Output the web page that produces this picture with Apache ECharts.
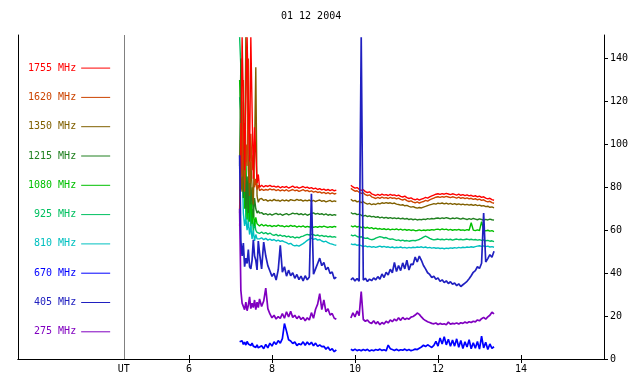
<!DOCTYPE html>
<html><head><meta charset="utf-8">
<script src="https://cdn.jsdelivr.net/npm/echarts@6/dist/echarts.min.js"></script>
<style>html,body{margin:0;padding:0;background:#fff}#c{width:640px;height:384px}</style>
</head><body><div id="c"></div>
<script>
// ---- time axis (UT hours) ----
const times = [
  7.22, 7.25, 7.28, 7.31, 7.34, 7.37, 7.40, 7.43, 7.46, 7.49, 7.52, 7.55, 7.58, 7.61, 7.64, 7.67, 7.70,
  7.75, 7.80, 7.85, 7.90, 7.95, 8.00, 8.05, 8.10, 8.15, 8.20,
  8.25, 8.30, 8.35, 8.40, 8.45, 8.50, 8.55, 8.60, 8.65, 8.70,
  8.75, 8.80, 8.85, 8.90, 8.95, 9.00, 9.05, 9.10, 9.15, 9.20,
  9.25, 9.30, 9.35, 9.40, 9.45, 9.50, 9.55,
  9.72,
  9.90, 9.95, 10.00, 10.05, 10.10, 10.15, 10.20, 10.25, 10.30, 10.35,
  10.40, 10.45, 10.50, 10.55, 10.60, 10.65, 10.70, 10.75, 10.80, 10.85,
  10.90, 10.95, 11.00, 11.05, 11.10, 11.15, 11.20, 11.25, 11.30, 11.35,
  11.40, 11.45, 11.50, 11.55, 11.60, 11.65, 11.70, 11.75, 11.80, 11.85,
  11.90, 11.95, 12.00, 12.05, 12.10, 12.15, 12.20, 12.25, 12.30, 12.35,
  12.40, 12.45, 12.50, 12.55, 12.60, 12.65, 12.70, 12.75, 12.80, 12.85,
  12.90, 12.95, 13.00, 13.05, 13.10, 13.15, 13.20, 13.25, 13.30, 13.35
];

const f1755 = [
  62, 95, 150, 150, 88, 120, 150, 150, 92, 150, 150, 84, 108, 96, 82, 86, 80,
  81.0, 80.2, 80.8, 80.4, 80.9, 80.3, 80.6, 80.1, 80.5, 79.8,
  80.3, 80.0, 80.4, 79.7, 80.1, 80.6, 79.9, 80.2, 79.6, 80.0,
  80.4, 79.8, 80.1, 79.5, 79.9, 79.3, 79.6, 79.0, 79.4, 78.8,
  79.2, 78.6, 79.0, 78.5, 78.9, 78.4, 78.7,
  null,
  81.0, 80.2, 79.6, 79.9, 79.1, 78.6, 78.9, 78.0, 77.6, 77.9,
  77.0, 76.6, 76.2, 76.7, 76.3, 76.8, 76.4, 76.6, 76.2, 76.7,
  76.3, 76.5, 76.0, 76.4, 75.8, 75.5, 75.9, 75.2, 74.8, 75.1,
  74.5, 74.2, 74.6, 74.1, 74.5, 74.8, 75.3, 75.0, 75.6, 76.0,
  76.4, 76.8, 77.0, 76.7, 77.1, 76.8, 77.2, 76.9, 76.6, 77.0,
  76.7, 76.4, 76.8, 76.3, 76.6, 76.1, 76.5, 76.0, 76.3, 75.8,
  76.1, 75.6, 75.9, 75.3, 75.6, 75.0, 74.6, 74.9, 74.3, 74.0
];
const f1620 = [
  70, 110, 85, 130, 78, 100, 90, 140, 82, 105, 88, 95, 80, 84, 79, 81, 78.5,
  79.2, 78.6, 79.0, 78.7, 79.3, 78.8, 79.1, 78.5, 78.9, 78.3,
  78.8, 78.4, 78.9, 78.2, 78.6, 79.0, 78.4, 78.7, 78.1, 78.5,
  78.9, 78.3, 78.6, 78.0, 78.4, 77.8, 78.1, 77.6, 77.9, 77.3,
  77.7, 77.1, 77.5, 77.0, 77.4, 76.9, 77.2,
  null,
  79.5, 78.8, 78.2, 78.4, 77.7, 77.2, 77.5, 76.6, 76.2, 76.5,
  75.6, 75.2, 74.8, 75.3, 74.9, 75.4, 75.0, 75.2, 74.8, 75.3,
  74.9, 75.1, 74.6, 75.0, 74.4, 74.1, 74.5, 73.8, 73.4, 73.7,
  73.1, 72.8, 73.2, 72.7, 73.1, 73.4, 73.9, 73.6, 74.2, 74.6,
  75.0, 75.4, 75.6, 75.3, 75.7, 75.4, 75.8, 75.5, 75.2, 75.6,
  75.3, 75.0, 75.4, 74.9, 75.2, 74.7, 75.1, 74.6, 74.9, 74.4,
  74.7, 74.2, 74.5, 73.9, 74.2, 73.6, 73.2, 73.5, 72.9, 72.6
];
const f1350 = [
  68, 85, 78, 95, 82, 150, 135, 88, 76, 92, 80, 72, 98, 136, 76, 73, 74.5,
  74.8, 73.9, 74.3, 73.6, 74.1, 73.7, 74.4, 73.8, 74.0, 73.5,
  74.2, 73.7, 74.1, 73.6, 74.3, 74.0, 73.8, 74.4, 73.9, 74.2,
  73.6, 74.0, 73.7, 74.1, 73.5, 73.9, 73.4, 73.8, 74.1, 73.5,
  73.8, 73.2, 73.6, 73.9, 73.3, 73.7, 73.4,
  null,
  74.5, 73.6, 73.9, 73.2, 73.5, 72.9, 73.3, 72.6, 72.2, 72.5,
  71.9, 72.3, 72.0, 72.6, 72.3, 72.8, 72.5, 72.9, 72.6, 72.8,
  72.4, 72.7, 72.2, 72.0, 71.7, 71.9, 71.4, 71.6, 71.1, 70.8,
  71.0, 70.6, 70.3, 70.6, 70.4, 70.8, 71.1, 71.5, 71.8, 72.1,
  72.4, 72.2, 72.6, 72.4, 72.7, 72.3, 72.6, 72.2, 72.5, 72.1,
  72.4, 72.0, 72.3, 71.9, 72.2, 71.8, 72.1, 71.7, 72.0, 71.6,
  71.9, 71.5, 71.7, 71.3, 71.5, 71.0, 71.2, 70.7, 70.9, 70.4
];
const f1215 = [
  90, 140, 100, 75, 110, 70, 85, 68, 95, 72, 80, 66, 75, 70, 68, 69, 68,
  68.2, 67.4, 67.8, 67.2, 67.6, 67.1, 67.5, 67.9, 67.3, 67.6,
  67.0, 67.4, 67.8, 67.2, 67.5, 68.0, 67.6, 67.9, 67.3, 67.7,
  67.2, 67.6, 67.0, 67.4, 67.8, 68.1, 67.5, 67.9, 67.4, 67.7,
  67.2, 67.6, 67.0, 67.4, 66.9, 67.3, 67.0,
  null,
  68.3, 67.6, 67.9, 67.3, 67.5, 67.0, 66.6, 66.9, 66.4, 66.7,
  66.2, 66.5, 66.0, 66.3, 65.8, 66.1, 65.7, 66.0, 65.6, 65.9,
  65.5, 65.8, 65.4, 65.7, 65.3, 65.6, 65.2, 65.5, 65.0, 65.3,
  64.9, 65.2, 64.8, 65.1, 64.9, 65.2, 65.0, 65.4, 65.2, 65.5,
  65.3, 65.6, 65.7, 65.4, 65.8, 65.5, 65.9, 65.6, 65.3, 65.7,
  65.4, 65.8, 65.5, 65.2, 65.6, 65.3, 65.0, 65.4, 65.1, 65.5,
  65.2, 64.9, 65.3, 65.0, 64.7, 65.1, 64.8, 65.2, 64.9, 64.7
];
const f1080 = [
  130, 110, 80, 120, 70, 95, 65, 85, 64, 78, 63, 70, 62, 66, 63, 62.5, 62,
  62.8, 62.0, 62.5, 61.9, 62.3, 61.7, 62.2, 61.8, 62.4, 61.9,
  62.1, 61.6, 62.0, 61.7, 62.3, 61.8, 62.1, 61.5, 61.9, 61.6,
  62.0, 61.4, 61.8, 61.5, 61.9, 61.3, 61.7, 61.4, 61.8, 61.5,
  61.9, 61.6, 61.3, 61.7, 61.4, 61.8, 61.5,
  null,
  62.1, 61.6, 62.0, 61.5, 61.8, 61.2, 61.6, 61.0, 61.4, 60.9,
  61.2, 60.7, 61.0, 60.5, 60.8, 60.4, 60.7, 60.3, 60.6, 60.2,
  60.5, 60.3, 60.6, 60.2, 60.5, 60.1, 60.4, 60.0, 60.3, 59.9,
  60.2, 59.8, 59.9, 60.2, 59.8, 60.1, 59.9, 60.2, 60.0, 60.3,
  60.1, 60.4, 60.5, 60.2, 60.6, 60.3, 60.5, 60.1, 60.4, 60.0,
  60.3, 60.1, 60.4, 60.0, 60.2, 59.9, 60.3, 60.0, 63.5, 60.1,
  59.8, 60.2, 59.9, 64.0, 60.1, 59.7, 60.0, 59.6, 59.8, 59.4
];
const f925 = [
  150, 136, 100, 75, 110, 65, 80, 62, 90, 60, 70, 59, 64, 60, 59, 58.5, 58.5,
  59.2, 58.4, 58.9, 58.2, 58.7, 58.0, 57.6, 58.1, 57.4, 57.8,
  57.2, 57.5, 56.9, 57.3, 56.7, 57.0, 56.4, 56.8, 56.5, 57.0,
  57.3, 57.7, 58.1, 57.8, 58.2, 57.9, 57.5, 57.8, 57.3, 57.6,
  57.1, 57.4, 56.9, 57.2, 56.8, 57.0, 56.7,
  null,
  57.9, 57.4, 57.7, 57.1, 56.8, 57.0, 56.5, 56.2, 56.4, 55.9,
  55.6, 55.8, 56.3, 56.7, 57.0, 56.8, 56.4, 56.6, 56.1, 55.8,
  56.0, 55.6, 55.3, 55.5, 55.1, 55.4, 55.0, 55.2, 54.9, 55.1,
  55.3, 55.1, 55.4, 55.7, 56.2, 56.8, 57.3, 56.8, 56.2, 55.8,
  55.5, 55.7, 55.9, 55.6, 55.8, 55.5, 55.9, 55.6, 55.8, 55.4,
  55.7, 55.9, 55.6, 55.8, 55.5, 55.7, 55.9, 55.6, 55.8, 55.5,
  55.7, 55.4, 55.6, 55.3, 55.5, 55.1, 55.3, 54.9, 55.1, 54.7
];
const f810 = [
  122, 115, 90, 68, 62, 66, 60, 64, 58, 62, 56, 60, 55, 58, 56, 55.5, 56,
  56.5, 55.6, 56.2, 55.4, 55.9, 55.3, 55.7, 55.0, 55.4, 54.8,
  55.1, 54.6, 54.2, 53.6, 53.9, 53.1, 52.7, 53.0, 52.6, 53.2,
  53.8, 54.5, 55.3, 55.9, 56.3, 55.8, 56.1, 55.4, 55.7, 55.0,
  54.6, 54.9, 54.2, 53.8, 53.5, 53.2, 53.0,
  null,
  53.7, 53.3, 53.5, 53.0, 53.2, 52.8, 52.4, 52.7, 52.3, 52.5,
  52.1, 52.4, 52.0, 52.3, 52.6, 52.2, 52.5, 52.1, 52.3, 51.9,
  52.2, 51.8, 52.1, 51.9, 52.2, 51.8, 52.0, 51.7, 52.0, 51.8,
  52.1, 51.9, 52.2, 52.0, 52.3, 51.9, 52.2, 51.8, 52.0, 51.7,
  51.9, 51.6, 51.8, 51.5, 51.7, 51.4, 51.7, 51.5, 51.8, 51.6,
  51.9, 51.7, 52.0, 51.8, 52.1, 51.9, 52.2, 52.0, 52.3, 52.1,
  52.4, 52.6, 52.8, 52.5, 52.7, 52.4, 52.6, 52.2, 52.4, 52.1
];
const f670 = [
  8.0, 7.2, 8.5, 6.8, 7.9, 6.5, 8.2, 7.0, 7.6, 6.3, 7.4, 6.0, 6.9, 5.4, 6.6, 5.2, 6.1,
  6.2, 4.8, 6.8, 5.2, 7.4, 6.0, 8.0, 6.8, 8.6, 7.4,
  9.5, 16.5, 13.0, 9.0, 8.4, 7.2, 7.9, 6.3, 7.1, 6.6,
  8.0, 6.4, 7.9, 6.6, 7.8, 6.2, 7.4, 5.9, 6.6, 5.8,
  5.9, 4.6, 5.6, 4.0, 4.8, 3.4, 4.3,
  null,
  4.5, 4.0, 4.6, 3.9, 4.3, 3.8, 4.4, 4.0, 4.5, 3.7,
  4.2, 3.9, 4.4, 4.1, 4.6, 4.0, 4.3, 3.8, 6.5, 4.8,
  4.4, 4.0, 4.5, 3.9, 4.3, 4.1, 4.6, 4.0, 4.4, 3.9,
  4.2, 4.6, 4.4, 5.0, 5.6, 6.4, 5.8, 6.6, 6.0, 5.4,
  6.3, 8.2, 6.0, 9.8, 7.0, 10.4, 6.6, 9.2, 5.9, 8.8,
  6.0, 9.4, 5.5, 8.6, 4.9, 8.0, 5.6, 9.0, 4.8, 7.6,
  5.0, 8.2, 4.6, 10.6, 5.2, 7.8, 4.4, 7.0, 5.0, 5.7
];
const f405 = [
  95, 55, 48, 54, 43, 47, 44.5, 51, 43, 42, 46, 55.5, 48, 46, 41.5, 55, 49.5,
  42.0, 54.5, 48.0, 43.5, 41.0, 38.5, 40.0, 36.8, 41.5, 53.0,
  40.5, 43.0, 38.6, 41.4, 38.8, 40.2, 37.6, 39.4, 37.0, 38.6,
  36.4, 38.8, 36.9, 38.2, 77.0, 39.5, 42.0, 44.5, 47.0, 43.5,
  45.0, 41.6, 42.8, 39.8, 40.6, 37.4, 38.2,
  null,
  36.9, 37.8, 36.4, 37.5, 36.2, 150, 36.8, 37.6, 36.1, 37.2,
  36.5, 37.8, 36.9, 38.4, 37.2, 39.6, 38.0, 40.4, 39.2, 41.8,
  40.2, 45.0, 40.8, 43.6, 41.2, 44.8, 42.0, 46.0, 41.5, 44.2,
  44.0, 47.5, 45.2, 48.0, 46.0, 43.6, 42.0, 40.2, 39.4, 38.0,
  38.6, 37.2, 37.8, 36.2, 36.9, 35.6, 36.4, 35.2, 36.0, 34.8,
  35.4, 34.2, 35.0, 33.8, 34.6, 35.4, 36.2, 37.4, 38.8, 40.4,
  41.2, 43.0, 42.2, 44.6, 68.0, 45.2, 46.8, 48.6, 47.4, 50.2
];
const f275 = [
  70, 32, 26, 24.5, 23, 26.5, 22.5, 25, 29, 23.5, 26, 24, 27.5, 23, 26.5, 24, 28,
  24.5, 27.0, 33.0, 23.5, 21.0, 19.2, 20.4, 18.6, 19.8, 18.9,
  21.2, 19.0, 22.0, 19.6, 22.2, 19.4, 20.4, 18.8, 20.0, 18.4,
  19.4, 17.8, 19.2, 18.2, 21.6, 19.0, 23.2, 25.6, 30.5, 23.0,
  27.5, 22.0, 23.4, 20.5, 21.2, 19.0, 18.6,
  null,
  19.1, 21.5, 19.6, 22.4, 20.2, 31.4, 18.4, 17.6, 18.2, 17.0,
  16.6, 17.8, 16.4, 17.4, 16.0, 17.0, 16.3, 17.6, 16.8, 18.2,
  17.4, 18.6, 17.8, 19.2, 18.0, 19.4, 18.4, 19.0, 18.6, 19.5,
  19.8, 20.5, 21.4, 20.8, 19.6, 18.6, 17.9, 17.4, 17.0, 16.6,
  16.4, 16.8, 16.1, 16.6, 16.2, 16.4, 16.0, 17.2, 16.2, 16.6,
  16.4, 16.8, 16.3, 16.9, 16.6, 17.2, 16.8, 17.4, 17.0, 17.6,
  17.3, 18.2, 17.8, 18.8, 19.4, 18.6, 19.6, 20.4, 21.8, 21.0
];

// ---- labels / ticks ----
const channelNames = ['1755 MHz','1620 MHz','1350 MHz','1215 MHz','1080 MHz','925 MHz','810 MHz','670 MHz','405 MHz','275 MHz'];
const channelColors = ['#ff0000','#cc4400','#806000','#208020','#00c000','#00c060','#00c0c0','#0000ff','#2020c0','#8000c0'];
const channelValues = [f1755, f1620, f1350, f1215, f1080, f925, f810, f670, f405, f275];
const drawOrder = [5, 6, 4, 3, 2, 1, 0, 9, 7, 8];
const xTicks = [6, 8, 10, 12, 14];
const utMarker = 4.43;
const yTicks = [0, 20, 40, 60, 80, 100, 120, 140];
const titleText = '01 12 2004';

const FONT = 'DejaVu Sans Mono';
const chart = echarts.init(document.getElementById('c'), null, {renderer: 'canvas'});

const series = drawOrder.map(i => ({
  name: channelNames[i],
  type: 'line',
  data: times.map((t, k) => [t, channelValues[i][k]]),
  symbol: 'none',
  connectNulls: false,
  xAxisIndex: 0, yAxisIndex: 0,
  lineStyle: {width: i >= 7 ? 1.7 : 1.4, color: channelColors[i]},
  itemStyle: {color: channelColors[i]},
  animation: false,
  silent: true
}));
series.unshift({
  name: 'UT', type: 'line', data: [], xAxisIndex: 0, yAxisIndex: 0,
  markLine: {
    silent: true, symbol: ['none', 'none'], animation: false,
    label: {show: false},
    lineStyle: {color: '#808080', type: 'solid', width: 1},
    data: [{xAxis: utMarker}]
  }
});

chart.setOption({
  backgroundColor: '#ffffff',
  animation: false,
  title: {
    text: titleText, left: 281, top: 11, padding: 0,
    textStyle: {fontFamily: FONT, fontSize: 10, fontWeight: 'normal', color: '#000'}
  },
  legend: {
    orient: 'vertical', align: 'right', left: 28, top: 62.5, padding: 0,
    itemWidth: 29, itemHeight: 14, itemGap: 18.1,
    selectedMode: false,
    itemStyle: {opacity: 0},
    lineStyle: {width: 1},
    textStyle: {fontFamily: FONT, fontSize: 10},
    data: channelNames.map((n, i) => ({name: n, textStyle: {color: channelColors[i]}}))
  },
  grid: {left: 18, right: 36, top: 35, bottom: 25},
  xAxis: [{
    type: 'value', position: 'bottom', min: 1.88, max: 16,
    axisLine: {show: true, lineStyle: {color: '#000', width: 1}},
    axisTick: {show: true, inside: true, length: 4, customValues: xTicks, lineStyle: {color: '#000'}},
    axisLabel: {show: true, customValues: [utMarker].concat(xTicks), margin: 5,
      fontFamily: FONT, fontSize: 10, color: '#000',
      formatter: v => (v < 5 ? 'UT' : String(v))},
    splitLine: {show: false}
  }, {
    type: 'value', position: 'top', min: 1.88, max: 16,
    axisLine: {show: true, lineStyle: {color: '#000', width: 1}},
    axisTick: {show: true, inside: true, length: 4, customValues: xTicks, lineStyle: {color: '#000'}},
    axisLabel: {show: false},
    splitLine: {show: false}
  }],
  yAxis: [{
    type: 'value', position: 'right', min: 0, max: 151,
    axisLine: {show: true, lineStyle: {color: '#000', width: 1}},
    axisTick: {show: true, inside: false, length: 4, customValues: yTicks, lineStyle: {color: '#000'}},
    axisLabel: {show: true, customValues: yTicks, margin: 6, fontFamily: FONT, fontSize: 10, color: '#000'},
    splitLine: {show: false}
  }, {
    type: 'value', position: 'left', min: 0, max: 151,
    axisLine: {show: true, lineStyle: {color: '#000', width: 1}},
    axisTick: {show: false}, axisLabel: {show: false}, splitLine: {show: false}
  }],
  series: series
});
</script></body></html>
